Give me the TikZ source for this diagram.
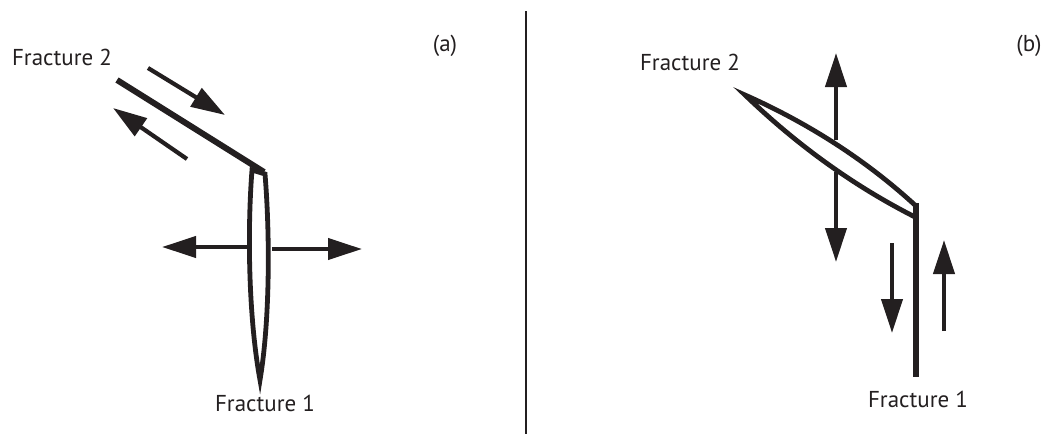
\documentclass[tikz,border=0pt]{standalone}
\usepackage{fontspec}
\setmainfont{PT Sans}
\usetikzlibrary{arrows.meta}
\definecolor{ink}{HTML}{231F20}
\tikzset{
  lbl/.style={text=ink, font=\fontsize{23}{26}\selectfont, inner sep=0pt},
  frac/.style={draw=ink, line width=6pt, line join=miter},
  lens/.style={draw=ink, line width=4.8pt, line join=miter},
  slip/.style={draw=ink, line width=4.2pt, -{Triangle[length=34pt,width=21pt]}},
}
\begin{document}
\begin{tikzpicture}[x=1pt,y=-1pt]
\useasboundingbox (0,0) rectangle (1046,434);
% divider
\draw[ink, line width=2pt] (526,11) -- (526,434);
% labels
\node[lbl] (a) at (445,46) {(a)};
\node[lbl] (b) at (1029,46) {(b)};
\node[lbl] (f2a) at (62,57) {Fracture 2};
\node[lbl] (f1a) at (265,403) {Fracture 1};
\node[lbl] (f2b) at (690,62) {Fracture 2};
\node[lbl] (f1b) at (918,399) {Fracture 1};

% ---- panel (a)
\coordinate (a2s) at (117,80);
\coordinate (a2e) at (264,172);
\draw[frac] (a2s) -- (a2e);
\coordinate (aTL) at (252,170);
\coordinate (aTR) at (265,174);
\coordinate (aB) at (260,380);
\draw[lens] (aTL) .. controls (247,235) and (249,320) .. (aB)
            .. controls (270,320) and (270,235) .. (aTR) -- cycle;
\coordinate (s1) at (148,68);  \coordinate (t1) at (225,115);
\coordinate (s2) at (187,159); \coordinate (t2) at (113,108);
\coordinate (s3) at (247,247); \coordinate (t3) at (162,247);
\coordinate (s4) at (272,249); \coordinate (t4) at (362,249);
\draw[slip] (s1) -- (t1);
\draw[slip] (s2) -- (t2);
\draw[slip] (s3) -- (t3);
\draw[slip] (s4) -- (t4);

% ---- panel (b)
\coordinate (bT) at (745,95);
\coordinate (bU) at (916,206);
\coordinate (bL) at (915,217);
\coordinate (bE) at (916,377);
\draw[lens] (bT) .. controls (808,123) and (866,160) .. (bU)
            -- (bL) .. controls (852,185) and (796,144) .. cycle;
\draw[frac] (916,203) -- (bE);
\coordinate (s5) at (836,140); \coordinate (t5) at (836,53);
\coordinate (s6) at (836,172); \coordinate (t6) at (836,262);
\coordinate (s7) at (892,243); \coordinate (t7) at (892,333);
\coordinate (s8) at (944,331); \coordinate (t8) at (944,240);
\draw[slip] (s5) -- (t5);
\draw[slip] (s6) -- (t6);
\draw[slip] (s7) -- (t7);
\draw[slip] (s8) -- (t8);
\end{tikzpicture}
\end{document}
